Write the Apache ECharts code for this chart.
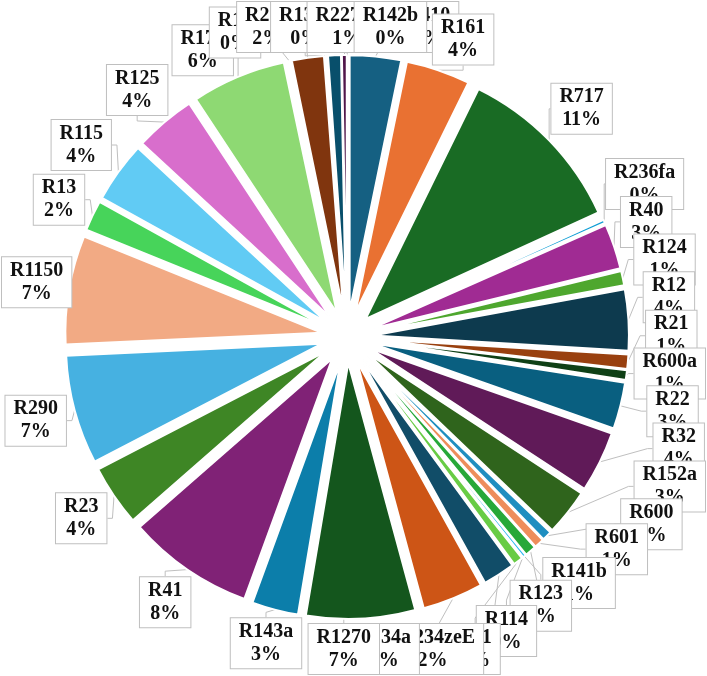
<!DOCTYPE html>
<html>
<head>
<meta charset="utf-8">
<script src="https://cdn.jsdelivr.net/npm/echarts@6/dist/echarts.min.js"></script>
<style>
html, body { margin: 0; padding: 0; background: #fff; }
#main { width: 707px; height: 676px; }
</style>
</head>
<body>
<div id="main"></div>
<script>
// 制冷剂占比
var names = ['R410', 'R161', 'R717', 'R236fa', 'R40', 'R124', 'R12', 'R21', 'R600a', 'R22',
    'R32', 'R152a', 'R600', 'R601', 'R141b', 'R123', 'R114', 'R11', 'R1234zeE', 'R134a',
    'R1270', 'R143a', 'R41', 'R23', 'R290', 'R1150', 'R13', 'R115', 'R125', 'R170',
    'R14', 'R218', 'R13I1', 'R227ea', 'R142b'];
var values = [3.2, 4.0, 10.8, 0.2, 2.8, 0.9, 3.8, 0.9, 0.6, 2.9,
    3.8, 2.9, 0.6, 0.6, 0.7, 0.2, 0.05, 0.6, 2.0, 3.8,
    6.8, 2.9, 7.9, 3.8, 6.8, 6.8, 1.9, 3.8, 3.8, 5.9,
    0.1, 2.0, 0.1, 0.8, 0.3];
var colors = ['#156082', '#E97132', '#196B24', '#0F9ED5', '#A02B93', '#4EA72E',
    '#0D3A4E', '#99400F', '#0F4016', '#095F80', '#601A58', '#2F641C',
    '#1F8EC0', '#EE8D5B', '#27A839', '#2CBAF0', '#CB3DBB', '#68CC45',
    '#114D68', '#CD5516', '#14561D', '#0C7EAA', '#802276', '#3E8625',
    '#46B1E1', '#F2AA84', '#47D45A', '#61CBF4', '#D86ECC', '#8ED973',
    '#0B3041', '#80350E', '#0D3612', '#084F6B', '#50164A'];

var chartDom = document.getElementById('main');
var myChart = echarts.init(chartDom);

var W = 707, H = 676;
var cx = 347, cy = 337, pieR = 256, explode = 26;
var fontSize = 20, lineH = 23, padX = 8, padY = 2, gap = 8;

// 标签位置: 先放在扇区中线外侧, 重叠太多的相邻标签沿切线方向推开
var total = values.reduce(function (a, b) { return a + b; }, 0);
var ctx = document.createElement('canvas').getContext('2d');
ctx.font = 'bold ' + fontSize + 'px "Liberation Serif"';
var boxes = names.map(function (n, i) {
    var pct = Math.round(values[i] / total * 100) + '%';
    var w = Math.max(ctx.measureText(n).width, ctx.measureText(pct).width) + padX * 2 + 2;
    return { w: w, h: lineH * 2 + padY * 2 + 2 };
});
var acc = 0;
var ang = values.map(function (v) {
    var a = (acc + v / 2) / total * Math.PI * 2;
    acc += v;
    return a;
});
function clamp(v, lo, hi) { return Math.max(lo, Math.min(hi, v)); }
function needR(a, b) {
    var s = Math.sin(a), c = Math.cos(a);
    var t = Math.min(b.w / 2 / Math.max(Math.abs(s), 1e-6), b.h / 2 / Math.max(Math.abs(c), 1e-6));
    return pieR + explode + gap + t;
}
function fit(p, b) {
    var dx = p[0] - cx, dy = p[1] - cy;
    var a = Math.atan2(dx, -dy);
    var R = needR(a, b), d = Math.sqrt(dx * dx + dy * dy);
    var x0 = b.w / 2 + 1, x1 = W - b.w / 2 - 1, y0 = b.h / 2 + 1, y1 = H - b.h / 2 - 1;
    if (d < R) {
        var nx = cx + R * Math.sin(a), ny = cy - R * Math.cos(a);
        if (nx < x0 || nx > x1) {
            p[0] = clamp(nx, x0, x1);
        } else if (ny < y0 || ny > y1) {
            p[1] = clamp(ny, y0, y1);
        } else {
            p[0] = nx;
            p[1] = ny;
        }
    }
    p[0] = clamp(p[0], x0, x1);
    p[1] = clamp(p[1], y0, y1);
}
var pos = ang.map(function (a, i) {
    var R = needR(a, boxes[i]);
    var p = [cx + R * Math.sin(a), cy - R * Math.cos(a)];
    fit(p, boxes[i]);
    return p;
});
var n = names.length;
for (var it = 0; it < 1000; it++) {
    var moved = false;
    for (var i = 0; i < n; i++) {
        for (var j = i + 1; j < n; j++) {
            var bi = boxes[i], bj = boxes[j];
            var ox = (bi.w + bj.w) / 2 * 0.55 - Math.abs(pos[j][0] - pos[i][0]);
            var oy = (bi.h + bj.h) / 2 * 0.72 - Math.abs(pos[j][1] - pos[i][1]);
            if (ox > 0 && oy > 0) {
                moved = true;
                var d = ang[j] - ang[i], sg = 1;
                if (d > Math.PI) { d -= Math.PI * 2; sg = -1; }
                var am = ang[i] + d / 2;
                var tx = Math.cos(am) * sg * 0.8, ty = Math.sin(am) * sg * 0.8;
                pos[i][0] -= tx; pos[i][1] -= ty;
                pos[j][0] += tx; pos[j][1] += ty;
            }
        }
    }
    for (var k = 0; k < n; k++) fit(pos[k], boxes[k]);
    if (!moved) break;
}

var pieData = names.map(function (n, i) {
    return { name: n, value: values[i], selected: true };
});
var labelData = names.map(function (n, i) {
    return { name: n, value: values[i] };
});

var option = {
    backgroundColor: '#fff',
    animation: false,
    color: colors,
    series: [{
        name: '制冷剂',
        type: 'pie',
        center: [cx, cy],
        radius: [0, pieR],
        startAngle: 90,
        selectedMode: 'multiple',
        selectedOffset: explode,
        itemStyle: { borderColor: '#fff', borderWidth: 2 },
        select: { itemStyle: { borderColor: '#fff', borderWidth: 2 } },
        emphasis: { disabled: true },
        label: { show: false },
        labelLine: { show: false },
        data: pieData
    }, {
        // 只用来放标签的透明饼
        name: '标签',
        type: 'pie',
        center: [cx, cy],
        radius: [0, pieR + explode],
        startAngle: 90,
        silent: true,
        avoidLabelOverlap: false,
        itemStyle: { color: 'rgba(0,0,0,0)', borderWidth: 0 },
        emphasis: { disabled: true },
        label: {
            show: true,
            position: 'outside',
            formatter: function (p) {
                return p.name + '\n' + Math.round(p.percent) + '%';
            },
            fontFamily: '"Liberation Serif", "Times New Roman", serif',
            fontWeight: 'bold',
            fontSize: fontSize,
            lineHeight: lineH,
            color: '#111',
            backgroundColor: '#fff',
            borderColor: '#BFBFBF',
            borderWidth: 1,
            padding: [padY, padX],
            align: 'center'
        },
        labelLine: {
            show: true,
            length: 5,
            length2: 5,
            lineStyle: { color: '#BFBFBF', width: 1 }
        },
        labelLayout: function (params) {
            var p = pos[params.dataIndex];
            return { x: p[0], y: p[1], align: 'center', verticalAlign: 'middle' };
        },
        data: labelData
    }]
};

if (option && typeof option === 'object') {
    myChart.setOption(option, true);
}
</script>
</body>
</html>
